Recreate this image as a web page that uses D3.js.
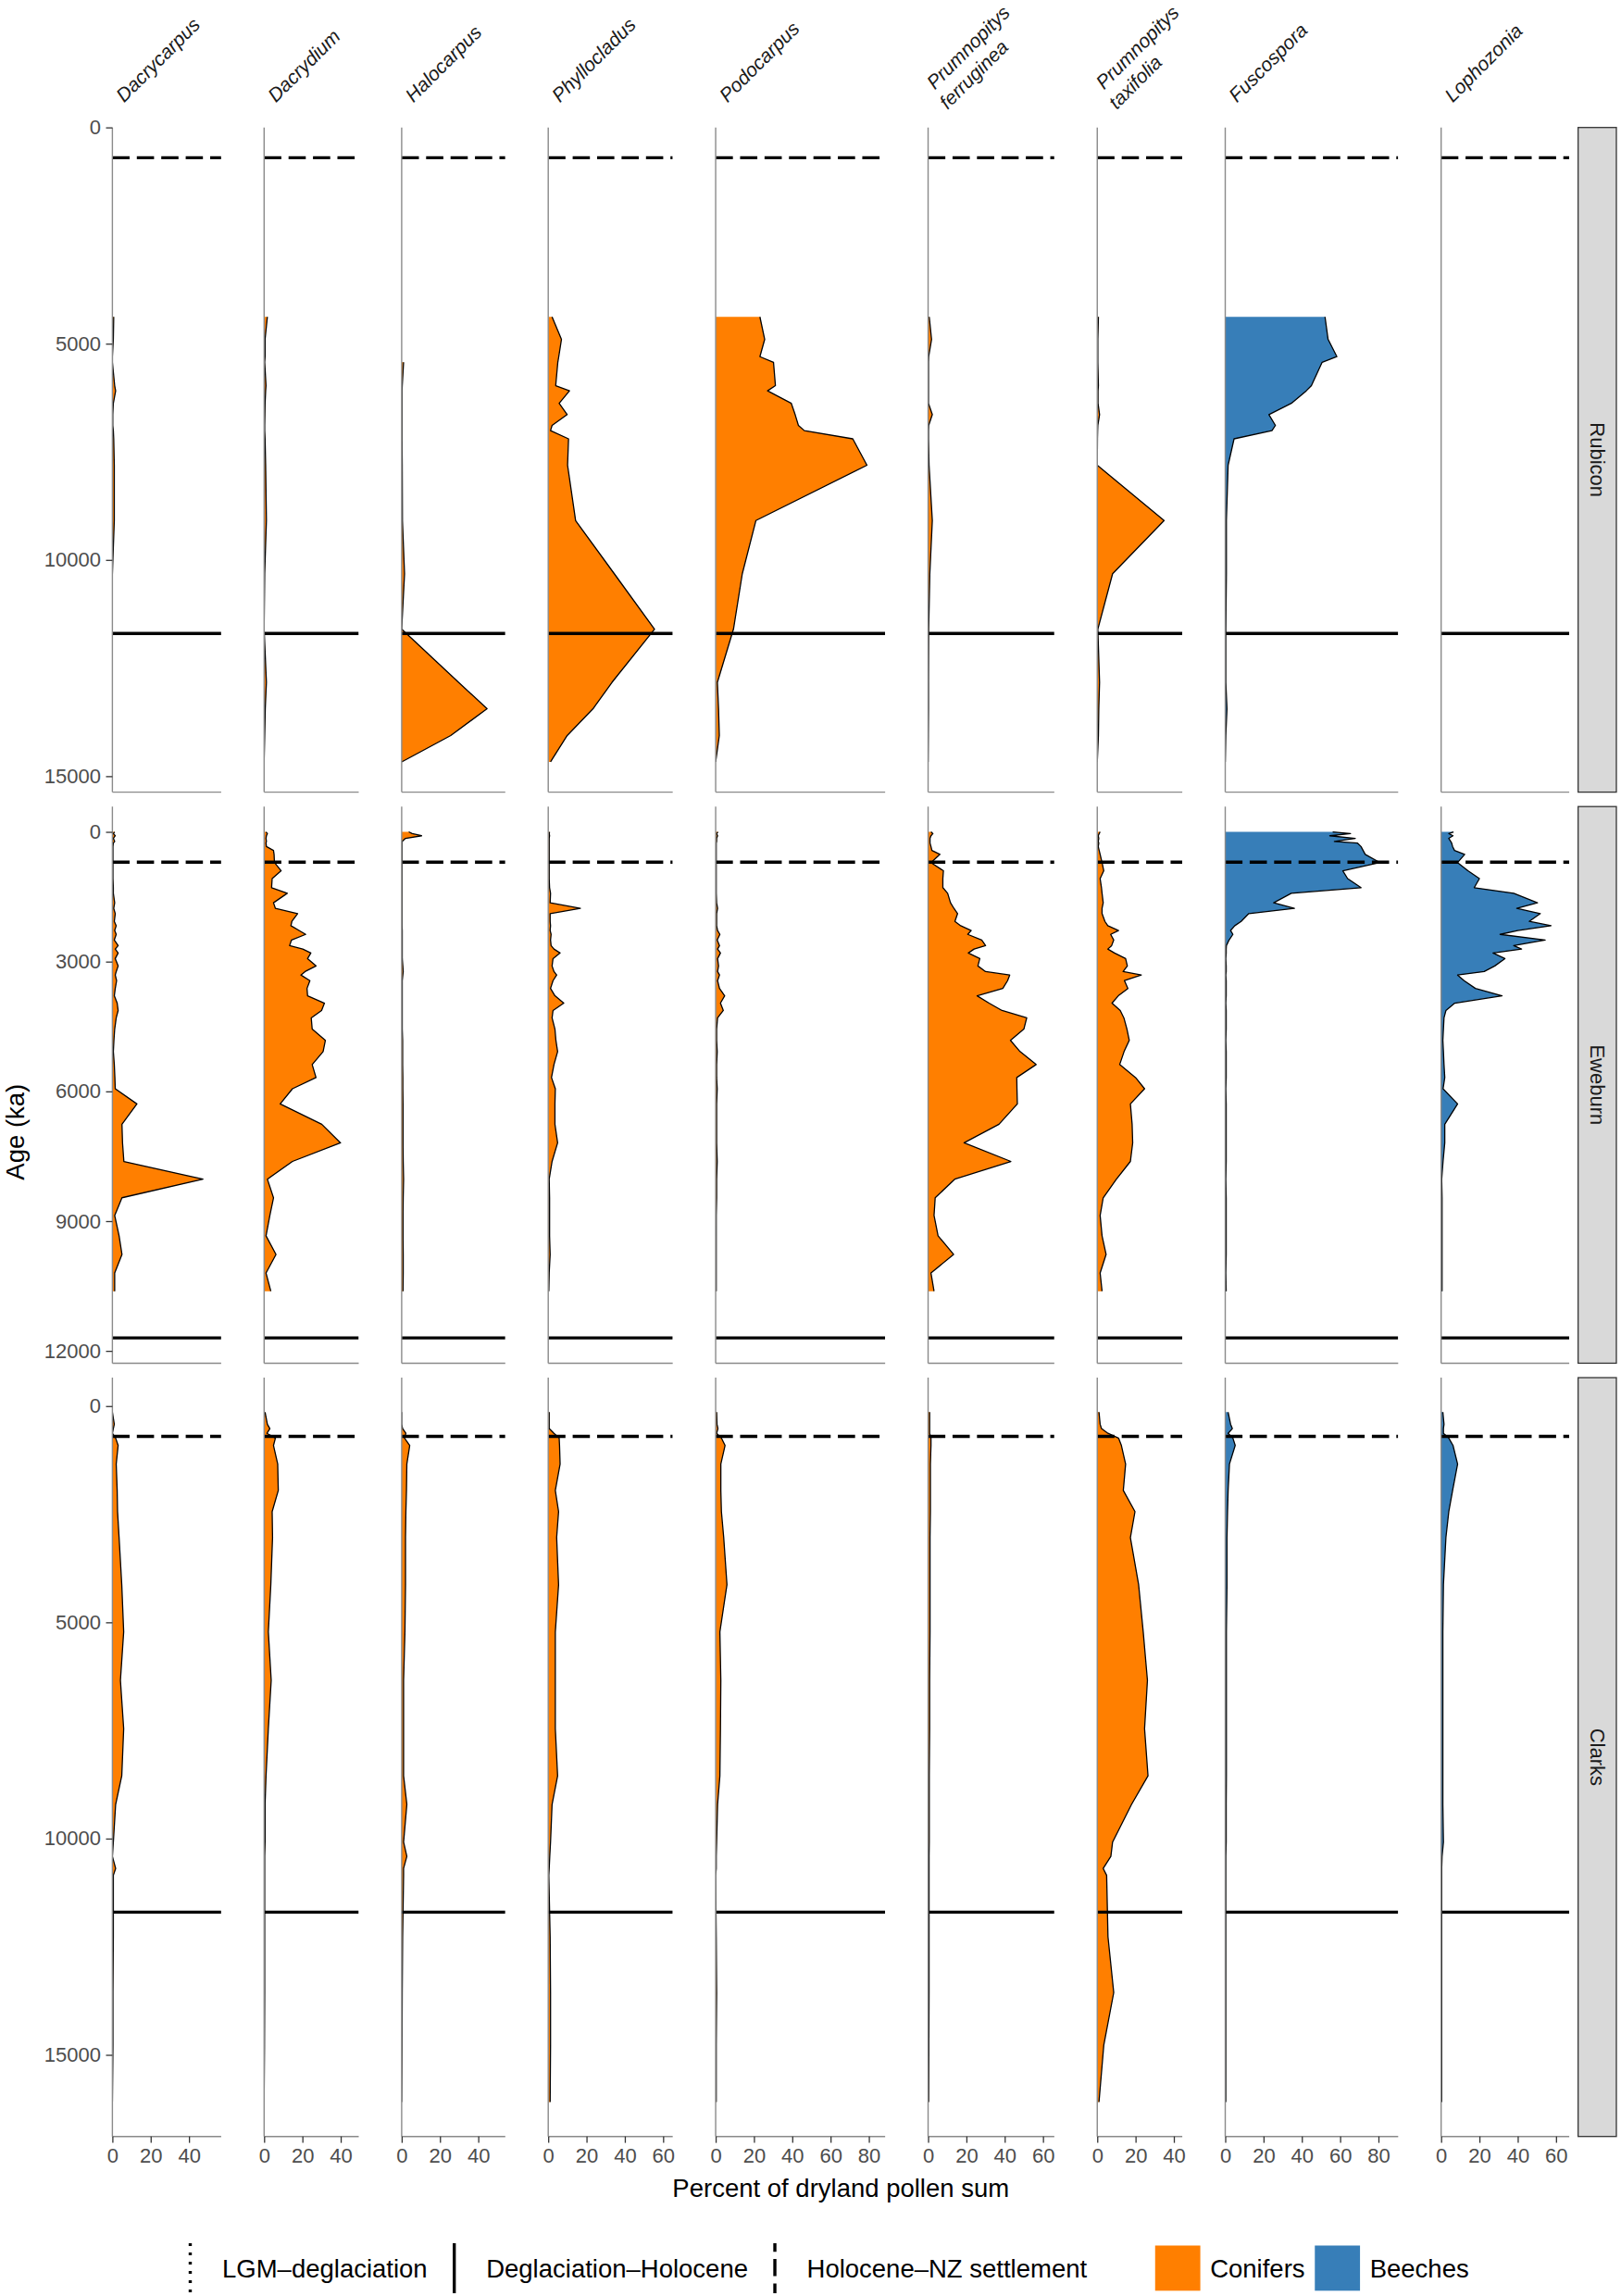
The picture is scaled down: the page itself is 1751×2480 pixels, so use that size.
<!DOCTYPE html>
<html>
<head>
<meta charset="utf-8">
<title>Pollen diagram</title>
<script src="https://cdn.jsdelivr.net/npm/d3@7"></script>
<style>
  body { margin: 0; background: #fff; }
  svg { display: block; }
  text { font-family: "Liberation Sans", Arial, Helvetica, sans-serif; }
</style>
</head>
<body>
<svg id="chart"></svg>
<script>
// columns = taxa, rows = sites
const taxa = ["Dacrycarpus", "Dacrydium", "Halocarpus", "Phyllocladus", "Podocarpus",
  "Prumnopitys ferruginea", "Prumnopitys taxifolia", "Fuscospora", "Lophozonia"];
const taxonGroup = ["Conifers", "Conifers", "Conifers", "Conifers", "Conifers",
  "Conifers", "Conifers", "Beeches", "Beeches"];
const sites = ["Rubicon", "Eweburn", "Clarks"];
const groups = ["Conifers", "Beeches"];
const groupColors = ["#FF7F00", "#377EB8"];

// period boundaries (yr) drawn in the panels, and legend names
const settlementAge = 700;
const holoceneAge = 11700;
const boundaryNames = ["LGM\u2013deglaciation", "Deglaciation\u2013Holocene", "Holocene\u2013NZ settlement"];

const ageTicks = [[0, 5000, 10000, 15000], [0, 3000, 6000, 9000, 12000], [0, 5000, 10000, 15000]];
const pctTicks = [[0, 20, 40], [0, 20, 40], [0, 20, 40], [0, 20, 40, 60], [0, 20, 40, 60, 80],
  [0, 20, 40, 60], [0, 20, 40], [0, 20, 40, 60, 80], [0, 20, 40, 60]];

// ---- Rubicon ----
const rubAges = [4380, 4900, 5300, 5430, 5970, 6090, 6380, 6640, 6890, 7010, 7200, 7810, 9090, 10320, 11600, 12830, 13440, 14060, 14670];
const rubDacrycarpus = [0.7, 0.5, 0, 0, 1.2, 1.7, 0.5, 0.2, 0.2, 0.5, 0.7, 1, 1, 0, null, null, null, null, null];
const rubDacrydium = [1.7, 0.5, 0.5, 0.3, 1, 0.8, 0.5, 0.4, 0.3, 0.3, 0.5, 0.8, 1.2, 0.3, 0, 1.2, 0.6, 0.3, 0];
const rubHalocarpus = [null, null, null, 1, 0.3, 0.2, 0.2, 0.2, 0.2, 0.2, 0.2, 0.3, 0.4, 1.5, 0, 29.7, 44.6, 25.6, 0];
const rubPhyllocladus = [2.0, 6.9, 5.5, 5.0, 3.9, 11.1, 5.7, 9.9, 2.0, 1.2, 10.6, 10.1, 14.3, 34.5, 55.5, 33.3, 23.4, 9.9, 1.2];
const rubPodocarpus = [23.1, 25.6, 23.1, 30.2, 31.2, 27.1, 39.5, 41.5, 43.2, 46.3, 71.6, 79, 21, 13.9, 9.3, 0.9, 1.5, 1.9, 0];
const rubPferruginea = [0.6, 1.8, 0.3, 0.2, 0.2, 0.2, 0.2, 2.2, 0.3, 0.2, 0.2, 0.5, 2.2, 0.9, 0.3, 0.2, 0.2, 0.1, 0];
const rubPtaxifolia = [0.6, 0.3, 0.3, 0.3, 0.6, 0.4, 0.4, 1.2, 0.3, 0.2, 0.1, 0, 34.9, 8, 0.3, 1.2, 0.8, 0.6, 0];
const rubFuscospora = [52.1, 53.7, 58.3, 50.6, 45, 42.3, 34.5, 22.8, 26.2, 24.4, 4.6, 1.5, 0.6, 0.6, 0.3, 0.3, 0.9, 0.3, 0];
const rubLophozonia = [];

// ---- Eweburn ----
const eweAges = [0, 40, 90, 150, 220, 260, 340, 430, 520, 710, 900, 1080, 1290, 1420, 1640, 1770, 1890, 2070, 2170, 2280,
  2370, 2500, 2630, 2710, 2800, 2930, 3100, 3230, 3310, 3440, 3620, 3790, 3960, 4130, 4300, 4560, 4820, 5080, 5380, 5680,
  5940, 6290, 6760, 7190, 7620, 8030, 8460, 8870, 9340, 9770, 10200, 10620];
const eweDacrycarpus = [1.2, 0.5, 1.5, 0.5, 1.2, 0.5, 0.3, 0.3, 0.3, 0.3, 0.3, 0.3, 0.5, 0.5, 1.2, 0.7, 1.5, 1.0, 2.0, 1.2,
  2.0, 1.0, 3.0, 1.5, 3.0, 1.5, 3.0, 2.0, 1.5, 2.2, 1.5, 1.0, 2.5, 3.0, 2.0, 1.2, 0.8, 0.5, 1.0, 1.3,
  1.5, 12.8, 5.0, 5.3, 6.0, 47.3, 5.0, 1.2, 3.5, 5.0, 1.2, 1.2];
const eweDacrydium = [1.0, 1.7, 1.2, 1.0, 1.2, 1.0, 1.2, 4.9, 5.2, 5.4, 8.9, 4.2, 3.9, 12.1, 4.9, 5.9, 17.5, 14.5, 14.0, 18.2,
  21.7, 14.3, 13.3, 20.2, 24.4, 22.7, 27.1, 21.4, 19.2, 23.9, 22.4, 22.7, 31.5, 30.0, 24.6, 25.1, 32.0, 30.8, 25.1, 27.1,
  14.8, 8.4, 30.1, 39.9, 14.8, 1.7, 4.9, 3.0, 1.0, 6.2, 1.0, 3.5];
const eweHalocarpus = [3.7, 5.5, 10.4, 2.0, 0.3, 0.2, 0.2, 0.2, 0.2, 0.2, 0.2, 0.2, 0.2, 0.2, 0.2, 0.2, 0.2, 0.2, 0.2, 0.3,
  0.3, 0.3, 0.3, 0.3, 0.3, 0.3, 0.6, 0.8, 0.6, 0.3, 0.3, 0.3, 0.3, 0.3, 0.3, 0.3, 0.5, 0.5, 0.5, 0.6,
  0.6, 0.7, 0.7, 0.7, 0.8, 1.0, 0.8, 0.7, 0.7, 0.8, 0.8, 0.7];
const ewePhyllocladus = [0.7, 0.5, 0.7, 0.5, 0.5, 0.5, 0.5, 0.5, 0.5, 0.5, 0.5, 0.5, 0.7, 1.2, 1.0, 16.8, 1.0, 1.0, 1.2, 1.0,
  1.5, 1.2, 1.5, 3.0, 6.2, 2.5, 2.0, 3.0, 4.4, 2.5, 1.2, 3.5, 8.1, 2.5, 2.0, 3.5, 4.0, 4.9, 3.0, 1.7,
  3.7, 3.5, 3.5, 4.9, 2.0, 0.5, 0.7, 0.7, 0.7, 1.0, 0.5, 0.3];
const ewePodocarpus = [1.2, 0.5, 1.0, 0.5, 0.5, 0.3, 0.3, 0.3, 0.3, 0.3, 0.3, 0.3, 0.3, 0.3, 0.5, 1.0, 0.5, 0.5, 0.5, 1.0,
  2.2, 0.8, 2.0, 1.0, 2.5, 1.0, 1.5, 1.0, 2.0, 1.0, 2.0, 4.7, 2.5, 4.0, 1.0, 0.5, 0.5, 0.8, 0.5, 0.5,
  0.8, 0.5, 0.5, 0.5, 0.8, 0.5, 0.5, 0.3, 0.3, 0.3, 0.3, 0.3];
const ewePferruginea = [1.5, 2.5, 1.5, 1.0, 1.0, 1.0, 1.5, 2.0, 6.2, 1.5, 8.0, 7.7, 7.7, 10.2, 11.7, 13.5, 15.4, 14.0, 17.0, 22.5,
  20.7, 28.0, 30.0, 24.0, 21.0, 27.0, 26.0, 30.0, 42.6, 41.5, 39.0, 25.6, 31.8, 38.6, 51.5, 50.0, 43.0, 48.0, 56.4, 46.3,
  46.4, 46.6, 37.0, 18.8, 43.2, 13.9, 3.7, 3.1, 5.2, 13.3, 1.5, 3.1];
const ewePtaxifolia = [1.5, 1.0, 0.5, 0.8, 0.5, 0.8, 0.5, 1.0, 1.5, 2.5, 3.4, 1.5, 2.2, 2.5, 3.1, 2.5, 2.5, 4.0, 5.5, 11.1,
  7.0, 8.6, 7.5, 5.5, 9.0, 14.8, 15.7, 13.5, 23.0, 14.2, 16.0, 11.0, 7.7, 12.0, 13.9, 15.5, 16.7, 14.0, 11.7, 20.0,
  24.7, 17.3, 18.2, 18.5, 17.3, 10.0, 3.1, 1.5, 2.5, 4.6, 1.5, 2.5];
const eweFuscospora = [56.1, 65.4, 54.6, 67.9, 57.0, 69.1, 70.9, 72.0, 73.1, 80.8, 61.4, 63.9, 70.9, 34.5, 25.3, 36.1, 12.3, 8.3, 5.0, 2.8,
  4.0, 2.0, 0.6, 0.5, 0.5, 0.3, 0.5, 0.5, 0.3, 0.5, 0.5, 0.5, 0.3, 0.5, 0.5, 0.5, 0.3, 0.5, 0.5, 0.5,
  0.3, 0.5, 0.5, 0.5, 0.5, 0.3, 0.5, 0.5, 0.5, 0.5, 0.3, 0.5];
const eweLophozonia = [6.5, 4.0, 6.2, 4.0, 5.0, 5.5, 6.0, 7.0, 12.3, 8.6, 14.0, 20.0, 17.3, 37.9, 50.3, 39.5, 51.8, 46.0, 57.4, 40.0,
  30.8, 54.3, 37.9, 42.0, 27.1, 33.3, 28.0, 22.5, 8.6, 12.0, 17.9, 31.8, 7.1, 2.5, 1.5, 1.2, 0.9, 1.2, 1.5, 1.9,
  1.0, 8.6, 1.9, 1.9, 1.0, 0.3, 0.5, 0.5, 0.5, 0.5, 0.5, 0.5];

// ---- Clarks ----
const claAges = [140, 420, 520, 630, 740, 910, 1340, 1950, 2440, 3040, 4130, 5220, 6340, 7460, 8550, 9210, 10080, 10410,
  10690, 10850, 12270, 13560, 14780, 16090];
const claDacrycarpus = [0, 1.0, 0.5, 0, 1.7, 3.0, 2.0, 2.5, 2.7, 3.5, 4.9, 5.9, 4.2, 5.9, 4.9, 1.7, 0.5, 0, 1.7, 0.5, 0.5, 0.3, 0.3, 0];
const claDacrydium = [0.5, 1.7, 3.0, 1.5, 5.9, 4.9, 7.1, 7.4, 4.2, 4.4, 3.5, 2.2, 3.7, 2.2, 1.0, 0.5, 0.5, 0.3, 0.3, 0.3, 0.3, 0.3, 0.2, 0];
const claHalocarpus = [0, 0, 0.5, 2.2, 1.5, 4.2, 2.7, 2.5, 2.2, 2.0, 2.0, 1.7, 1.0, 1.0, 1.0, 2.7, 1.0, 2.7, 1.0, 1.0, 0.5, 0.3, 0.2, 0];
const claPhyllocladus = [0.5, 0.5, 0.5, 3.0, 5.7, 5.9, 6.2, 3.7, 5.4, 4.4, 5.4, 3.7, 3.7, 3.7, 4.9, 2.0, 1.2, 0.8, 0.5, 0.3, 1.0, 1.2, 1.2, 1.0];
const claPodocarpus = [0.5, 0.7, 1.2, 0.5, 3.0, 4.9, 2.7, 2.7, 3.0, 4.2, 5.9, 2.2, 2.7, 2.5, 2.2, 1.0, 0.5, 0.3, 0.3, 0, 0.3, 0.5, 0.3, 0.3];
const claPferruginea = [0.8, 0.8, 0.8, 0.8, 1.5, 1.5, 1.2, 1.2, 1.2, 1.0, 1.0, 1.0, 0.8, 0.8, 0.6, 0.6, 0.6, 0.5, 0.5, 0.5, 0.5, 0.5, 0.4, 0.3];
const claPtaxifolia = [0.9, 1.5, 2.2, 5.6, 11.1, 12.6, 14.8, 13.6, 19.7, 17.3, 21.6, 24.0, 26.2, 24.7, 26.5, 17.9, 8.0, 7.1, 3.1, 4.9, 5.6, 8.6, 3.4, 0.9];
const claFuscospora = [1.5, 2.8, 3.7, 1.5, 4.0, 5.2, 2.2, 1.5, 1.2, 0.9, 0.9, 0.6, 0.6, 0.6, 0.6, 0.5, 0.5, 0.3, 0.3, 0.3, 0.3, 0.3, 0.3, 0.3];
const claLophozonia = [0.9, 1.5, 1.2, 1.2, 4.0, 6.2, 8.6, 6.0, 4.0, 2.5, 1.2, 0.9, 0.9, 0.9, 0.9, 0.9, 1.2, 0.5, 0.3, 0.3, 0.3, 0.3, 0.3, 0.3];

const siteAges = [rubAges, eweAges, claAges];
const siteValues = [
  [rubDacrycarpus, rubDacrydium, rubHalocarpus, rubPhyllocladus, rubPodocarpus, rubPferruginea, rubPtaxifolia, rubFuscospora, rubLophozonia],
  [eweDacrycarpus, eweDacrydium, eweHalocarpus, ewePhyllocladus, ewePodocarpus, ewePferruginea, ewePtaxifolia, eweFuscospora, eweLophozonia],
  [claDacrycarpus, claDacrydium, claHalocarpus, claPhyllocladus, claPodocarpus, claPferruginea, claPtaxifolia, claFuscospora, claLophozonia]
];

// ---- layout ----
const width = 1751, height = 2480;
const plot = { left: 121.4, right: 1695.1, top: 137.7, bottom: 2307.7 };
const colGap = 46.4, rowGap = 15.6;
const xPad = 9.5;   // percent added right of each column's maximum
const tickLen = 6.9, tickPad = 5.5;
const dash = "18.6,7.8";

const svg = d3.select("#chart")
  .attr("width", width)
  .attr("height", height)
  .attr("viewBox", [0, 0, width, height]);

svg.append("rect").attr("width", width).attr("height", height).attr("fill", "#fff");

// free x scales, panel width proportional to range
const colMax = taxa.map((t, c) => d3.max(siteValues, vals => d3.max(vals[c]) || 0) + xPad);
const pxPerPct = (plot.right - plot.left - colGap * (taxa.length - 1)) / d3.sum(colMax);
const colX = [];
taxa.forEach((t, c) => { colX.push(c === 0 ? plot.left : colX[c - 1] + colMax[c - 1] * pxPerPct + colGap); });

// free y scales, 5% expansion, panel height proportional to range
const rowDomain = siteAges.map(ages => {
  const [lo, hi] = d3.extent(ages.concat([settlementAge, holoceneAge]));
  const e = (hi - lo) * 0.05;
  return [lo - e, hi + e];
});
const pxPerYr = (plot.bottom - plot.top - rowGap * (sites.length - 1)) / d3.sum(rowDomain, d => d[1] - d[0]);
const rowY = [];
sites.forEach((s, r) => {
  rowY.push(r === 0 ? plot.top : rowY[r - 1] + (rowDomain[r - 1][1] - rowDomain[r - 1][0]) * pxPerYr + rowGap);
});

const defs = svg.append("defs");

sites.forEach((site, r) => {
  const y0 = rowY[r];
  const y1 = y0 + (rowDomain[r][1] - rowDomain[r][0]) * pxPerYr;
  const y = d3.scaleLinear().domain(rowDomain[r]).range([y0, y1]);

  taxa.forEach((taxon, c) => {
    const x0 = colX[c];
    const x1 = x0 + colMax[c] * pxPerPct;
    const x = d3.scaleLinear().domain([0, colMax[c]]).range([x0, x1]);
    const id = `clip-${r}-${c}`;
    defs.append("clipPath").attr("id", id)
      .append("rect").attr("x", x0).attr("y", y0).attr("width", x1 - x0).attr("height", y1 - y0);

    const g = svg.append("g").attr("clip-path", `url(#${id})`);
    const vals = siteValues[r][c];
    const pts = vals.map((v, i) => ({ age: siteAges[r][i], v: v }));

    if (pts.length) {
      const area = d3.area()
        .defined(d => d.v != null)
        .y(d => y(d.age))
        .x0(x(0))
        .x1(d => x(d.v));
      const line = d3.line()
        .defined(d => d.v != null)
        .y(d => y(d.age))
        .x(d => x(d.v));
      g.append("path").attr("d", area(pts))
        .attr("fill", groupColors[groups.indexOf(taxonGroup[c])]);
      g.append("path").attr("d", line(pts))
        .attr("fill", "none").attr("stroke", "#000")
        .attr("stroke-width", 1.3).attr("stroke-linejoin", "round");
    }

    // panel axis lines
    svg.append("line").attr("x1", x0).attr("x2", x0).attr("y1", y0).attr("y2", y1)
      .attr("stroke", "#8a8a8a").attr("stroke-width", 1.4);
    svg.append("line").attr("x1", x0).attr("x2", x1).attr("y1", y1).attr("y2", y1)
      .attr("stroke", "#8a8a8a").attr("stroke-width", 1.4);

    // period boundaries
    g.append("line").attr("x1", x0).attr("x2", x1)
      .attr("y1", y(settlementAge)).attr("y2", y(settlementAge))
      .attr("stroke", "#000").attr("stroke-width", 3.4)
      .attr("stroke-dasharray", dash);
    g.append("line").attr("x1", x0).attr("x2", x1)
      .attr("y1", y(holoceneAge)).attr("y2", y(holoceneAge))
      .attr("stroke", "#000").attr("stroke-width", 3.4);

    if (c === 0) {
      const ax = svg.append("g").attr("transform", `translate(${x0},0)`)
        .call(d3.axisLeft(y).tickValues(ageTicks[r]).tickFormat(d3.format("d"))
          .tickSize(tickLen).tickPadding(tickPad));
      ax.select(".domain").remove();
      ax.selectAll(".tick line").attr("stroke", "#333").attr("stroke-width", 1.3);
      ax.selectAll("text").attr("fill", "#4D4D4D").attr("font-size", 22)
        .attr("font-family", "\"Liberation Sans\", Arial, sans-serif");
    }
    if (r === sites.length - 1) {
      const ax = svg.append("g").attr("transform", `translate(0,${y1})`)
        .call(d3.axisBottom(x).tickValues(pctTicks[c]).tickSize(tickLen).tickPadding(tickPad));
      ax.select(".domain").remove();
      ax.selectAll(".tick line").attr("stroke", "#333").attr("stroke-width", 1.3);
      ax.selectAll("text").attr("fill", "#4D4D4D").attr("font-size", 22)
        .attr("font-family", "\"Liberation Sans\", Arial, sans-serif");
    }
  });

  // site strip
  const sx = plot.right + 9.6, sw = 41.3;
  svg.append("rect").attr("x", sx).attr("y", y0).attr("width", sw).attr("height", y1 - y0)
    .attr("fill", "#D9D9D9").attr("stroke", "#333").attr("stroke-width", 1.3);
  svg.append("text")
    .attr("transform", `translate(${sx + sw / 2},${(y0 + y1) / 2}) rotate(90)`)
    .attr("text-anchor", "middle").attr("dy", "0.35em")
    .attr("font-size", 22).attr("fill", "#1A1A1A")
    .text(site);
});

// taxon labels, rotated 45 degrees; two-word names wrap onto two lines
taxa.forEach((taxon, c) => {
  const lines = taxon.split(" ");
  const two = lines.length > 1;
  const t = svg.append("text")
    .attr("transform", `translate(${colX[c] + (two ? 21 : 12.6)},${two ? 119 : 111.5}) rotate(-45)`)
    .attr("font-size", 21).attr("font-style", "italic").attr("fill", "#1A1A1A");
  if (two) {
    t.append("tspan").attr("x", 5.4).attr("y", -25).text(lines[0]);
    t.append("tspan").attr("x", 0).attr("y", 0).text(lines[1]);
  } else {
    t.text(taxon);
  }
});

// axis titles
svg.append("text")
  .attr("x", (plot.left + plot.right) / 2).attr("y", 2373)
  .attr("text-anchor", "middle").attr("font-size", 27.5)
  .text("Percent of dryland pollen sum");
svg.append("text")
  .attr("transform", `translate(25.5,${(plot.top + plot.bottom) / 2}) rotate(-90)`)
  .attr("text-anchor", "middle").attr("font-size", 27.5)
  .text("Age (ka)");

// legend
const legendY = 2450;
const lg = svg.append("g");
const keyDash = ["3,7", null, dash];
const keyOffset = [0, 0, 9.4];
let lx = 205.5;
boundaryNames.forEach((name, i) => {
  lg.append("line").attr("x1", lx).attr("x2", lx)
    .attr("y1", legendY - 27).attr("y2", legendY + 27)
    .attr("stroke", "#000").attr("stroke-width", 3.4)
    .attr("stroke-dasharray", keyDash[i]).attr("stroke-dashoffset", keyOffset[i]);
  const t = lg.append("text").attr("x", lx + 34.5).attr("y", legendY + 10)
    .attr("font-size", 27.5).text(name);
  lx = lx + 34.5 + t.node().getComputedTextLength() + 29;
});
lx += 44.6;
groups.forEach((grp, i) => {
  lg.append("rect").attr("x", lx).attr("y", legendY - 24.5)
    .attr("width", 48.8).attr("height", 48.8).attr("fill", groupColors[i]);
  const t = lg.append("text").attr("x", lx + 48.8 + 10.6).attr("y", legendY + 10)
    .attr("font-size", 27.5).text(grp);
  lx = lx + 48.8 + 10.6 + t.node().getComputedTextLength() + 10.7;
});
</script>
</body>
</html>
